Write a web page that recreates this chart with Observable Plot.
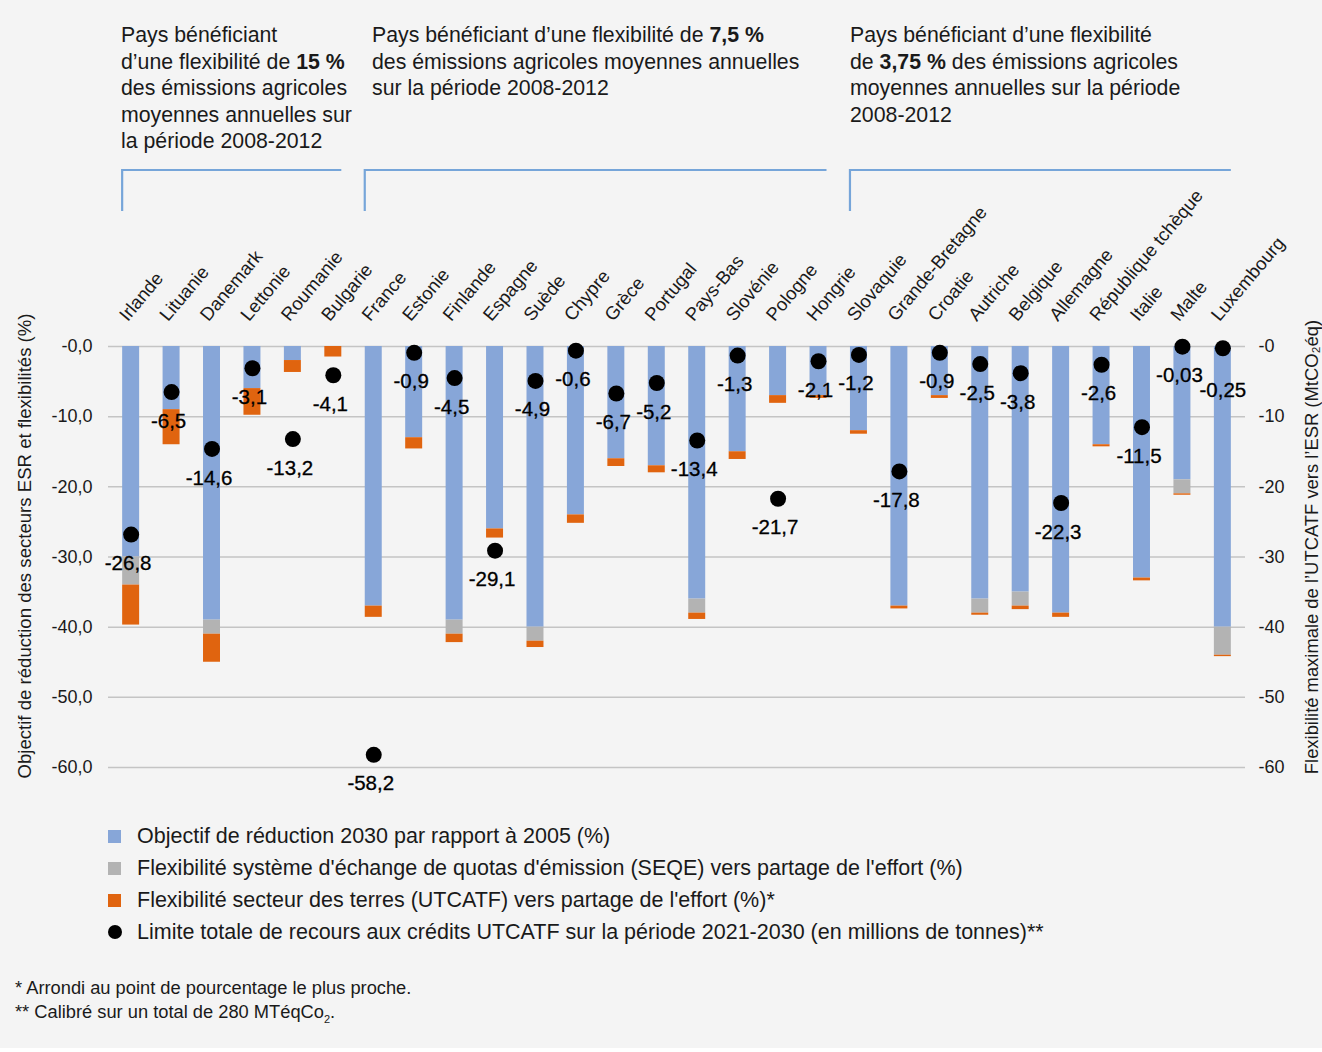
<!DOCTYPE html>
<html><head><meta charset="utf-8">
<script src="https://cdn.jsdelivr.net/npm/d3@7"></script>
<script src="https://cdn.jsdelivr.net/npm/@observablehq/plot@0.6"></script>
<style>
body{margin:0;background:#fff;font-family:"Liberation Sans",Arial,sans-serif;color:#1a1a1a;}
#wrap{position:relative;width:1322px;height:1048px;background:#f4f4f4;overflow:hidden;}
#chart{position:absolute;left:0;top:0;}
.hdr{position:absolute;top:22px;font-size:21.3px;line-height:26.5px;white-space:nowrap;}
.hdr b{font-weight:bold;}
#legend{position:absolute;left:108px;top:820px;font-size:21.5px;}
.row{height:32px;display:flex;align-items:center;white-space:nowrap;}
.sw{width:13px;height:13px;margin-right:16px;flex:none;}
.dotsw{width:14px;height:14px;border-radius:50%;background:#000;margin-right:15px;flex:none;}
#notes{position:absolute;left:15px;top:976px;font-size:18.3px;line-height:24px;}
#notes sub{font-size:11px;}
</style></head>
<body>
<div id="wrap">
<div id="chart"></div>
<div class="hdr" style="left:121px">Pays bénéficiant<br>d’une flexibilité de <b>15 %</b><br>des émissions agricoles<br>moyennes annuelles sur<br>la période 2008-2012</div>
<div class="hdr" style="left:372px">Pays bénéficiant d’une flexibilité de <b>7,5 %</b><br>des émissions agricoles moyennes annuelles<br>sur la période 2008-2012</div>
<div class="hdr" style="left:850px">Pays bénéficiant d’une flexibilité<br>de <b>3,75 %</b> des émissions agricoles<br>moyennes annuelles sur la période<br>2008-2012</div>
<div id="legend"></div>
<div id="notes">* Arrondi au point de pourcentage le plus proche.<br>** Calibré sur un total de 280 MTéqCo<sub>2</sub>.</div>
</div>
<script>
const countries = ["Irlande","Lituanie","Danemark","Lettonie","Roumanie","Bulgarie","France","Estonie","Finlande","Espagne","Suède","Chypre","Grèce","Portugal","Pays-Bas","Slovénie","Pologne","Hongrie","Slovaquie","Grande-Bretagne","Croatie","Autriche","Belgique","Allemagne","République tchèque","Italie","Malte","Luxembourg"];
const objectif = [-30,-9,-39,-6,-2,0,-37,-13,-39,-26,-40,-24,-16,-17,-36,-15,-7,-7,-12,-37,-7,-36,-35,-38,-14,-33,-19,-40];
const seqe = [-4,0,-2,0,0,0,0,0,-2,0,-2,0,0,0,-2,0,0,0,0,0,0,-2,-2,0,0,0,-2,-4];
const utcatf = [-5.7,-5,-4,-3.8,-1.7,-1.5,-1.6,-1.6,-1.2,-1.3,-0.9,-1.2,-1.1,-1,-0.9,-1.1,-1.1,-0.4,-0.5,-0.4,-0.4,-0.3,-0.5,-0.6,-0.3,-0.4,-0.2,-0.2];
const credits = [-26.8,-6.5,-14.6,-3.1,-13.2,-4.1,-58.2,-0.9,-4.5,-29.1,-4.9,-0.6,-6.7,-5.2,-13.4,-1.3,-21.7,-2.1,-1.2,-17.8,-0.9,-2.5,-3.8,-22.3,-2.6,-11.5,-0.03,-0.25];
const groups = [[0,5],[6,17],[18,27]];
const seriesNames = ["Objectif de réduction 2030 par rapport à 2005 (%)","Flexibilité système d'échange de quotas d'émission (SEQE) vers partage de l'effort (%)","Flexibilité secteur des terres (UTCATF) vers partage de l'effort (%)*"];
const dotName = "Limite totale de recours aux crédits UTCATF sur la période 2021-2030 (en millions de tonnes)**";
const seriesColors = ["#87a6d8","#b3b3b3","#e0640f"];
const yTicks = [0,-10,-20,-30,-40,-50,-60];
const leftTitle = "Objectif de réduction des secteurs ESR et flexibilités (%)";
const rightTitle = "Flexibilité maximale de l’UTCATF vers l’ESR (MtCO₂éq)";

// label nudge (style only) to avoid overlap, as in the original
const labelNudge = {"Luxembourg": 13};

const stackData = [];
countries.forEach((c,i)=>{
  [objectif,seqe,utcatf].forEach((arr,k)=>stackData.push({country:c, series:seriesNames[k], value:arr[i]}));
});
const dotData = countries.map((c,i)=>({country:c, value:credits[i]}));
const fmtLabel = v => String(v).replace(".",",");
const fmtLeft = d => (d===0 ? "-0,0" : d.toFixed(1).replace(".",","));
const fmtRight = d => (d===0 ? "-0" : String(d));
const font = "Liberation Sans, Arial, sans-serif";

const chart = Plot.plot({
  width:1322, height:810,
  marginTop:346, marginBottom:43, marginLeft:108, marginRight:77,
  style:{background:"transparent", fontFamily:font, fontSize:"18px", color:"#1a1a1a"},
  x:{type:"band", domain:countries, paddingInner:0.58, paddingOuter:0.35, round:false, axis:null},
  y:{domain:[-60,0], axis:null},
  color:{domain:seriesNames, range:seriesColors},
  marks:[
    Plot.gridY(yTicks, {stroke:"#c4c4c4", strokeOpacity:1, strokeWidth:1.5}),
    Plot.axisY(yTicks, {anchor:"left", tickSize:0, tickPadding:16, tickFormat:fmtLeft, fontSize:18, label:null}),
    Plot.axisY(yTicks, {anchor:"right", tickSize:0, tickPadding:13, tickFormat:fmtRight, fontSize:18, label:null}),
    Plot.barY(stackData, {x:"country", y:"value", fill:"series", order:seriesNames}),
    Plot.dot(dotData, {x:"country", y:"value", r:8, fill:"#000", stroke:null}),
    Plot.text(dotData.filter(d=>!labelNudge[d.country]), {x:"country", y:"value", text:d=>fmtLabel(d.value), dy:29, dx:-3, fontSize:20.5, fill:"#000", stroke:"#000", strokeWidth:0.3}),
    Plot.text(dotData.filter(d=>labelNudge[d.country]), {x:"country", y:"value", text:d=>fmtLabel(d.value), dy:29+13, dx:0, fontSize:20.5, fill:"#000", stroke:"#000", strokeWidth:0.3}),
    Plot.text(countries, {x:d=>d, frameAnchor:"top", text:d=>d, rotate:-50, textAnchor:"start", lineAnchor:"middle", dx:-8, dy:-28, fontSize:18.5, fill:"#1a1a1a"})
  ]
});
document.getElementById("chart").appendChild(chart);

// brackets & axis titles
const svg = d3.select(chart);
const xs = chart.scale("x");
groups.forEach(([a,b])=>{
  const x0 = xs.apply(countries[a]);
  const x1 = xs.apply(countries[b]) + xs.bandwidth;
  svg.append("path").attr("d",`M${x0},211V170H${x1}`).attr("fill","none").attr("stroke","#76a5d9").attr("stroke-width",2.2);
});
svg.append("text").attr("transform","translate(31,546) rotate(-90)").attr("text-anchor","middle")
  .attr("font-family",font).attr("font-size",18.6).attr("fill","#1a1a1a").text(leftTitle);
svg.append("text").attr("transform","translate(1318,547) rotate(-90)").attr("text-anchor","middle")
  .attr("font-family",font).attr("font-size",18.4).attr("fill","#1a1a1a").text(rightTitle);

// legend
const lg = d3.select("#legend");
seriesNames.forEach((n,i)=>{
  const r = lg.append("div").attr("class","row");
  r.append("div").attr("class","sw").style("background",seriesColors[i]);
  r.append("span").text(n);
});
const r = lg.append("div").attr("class","row");
r.append("div").attr("class","dotsw");
r.append("span").text(dotName);
</script>
</body></html>
